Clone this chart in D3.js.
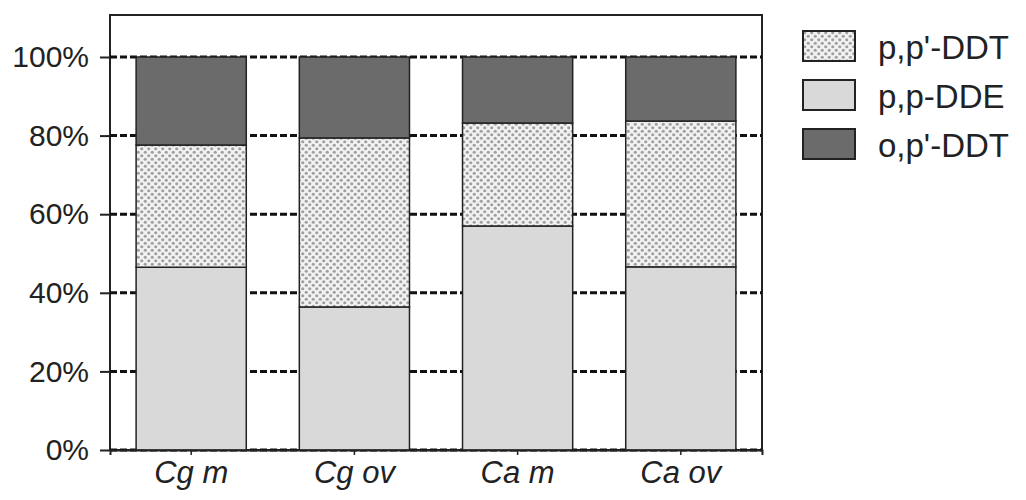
<!DOCTYPE html>
<html>
<head>
<meta charset="utf-8">
<script src="https://cdn.jsdelivr.net/npm/d3@7"></script>
<style>
  body { margin: 0; background: #fff; }
  svg { display: block; font-family: Arial, "Liberation Sans", sans-serif; }
</style>
</head>
<body>
<div id="chart"></div>
<script>

// data (percent of total)
var samples = ["Cg m", "Cg ov", "Ca m", "Ca ov"];
var ppDDE   = [46.5, 36.4, 57.0, 46.6];
var ppDDT   = [31.1, 43.0, 26.2, 37.1];
var opDDT   = [22.4, 20.6, 16.8, 16.3];
var yTicks  = [0, 20, 40, 60, 80, 100];

var series = [
  {key: "ppDDE", name: "p,p-DDE",  values: ppDDE},
  {key: "ppDDT", name: "p,p'-DDT", values: ppDDT},
  {key: "opDDT", name: "o,p'-DDT", values: opDDT}
];
var legendOrder = ["ppDDT", "ppDDE", "opDDT"];

var W = 1026, H = 500;
var margin = {top: 15, right: 264, bottom: 50, left: 110};

var svg = d3.select("#chart").append("svg")
    .attr("width", W)
    .attr("height", H);

// dotted fill for p,p'-DDT
var defs = svg.append("defs");
var pat = defs.append("pattern")
    .attr("id", "dots")
    .attr("patternUnits", "userSpaceOnUse")
    .attr("width", 7).attr("height", 7);
pat.append("rect").attr("width", 7).attr("height", 7).attr("fill", "#f2f2f2");
pat.append("circle").attr("cx", 1.75).attr("cy", 1.75).attr("r", 1.6).attr("fill", "#a0a0a0");
pat.append("circle").attr("cx", 5.25).attr("cy", 5.25).attr("r", 1.6).attr("fill", "#a0a0a0");

var fills = {ppDDE: "#d9d9d9", ppDDT: "url(#dots)", opDDT: "#6b6b6b"};

var x = d3.scaleBand()
    .domain(samples)
    .range([margin.left, W - margin.right])
    .paddingInner(0.325)
    .paddingOuter(0.16);

var y = d3.scaleLinear()
    .domain([0, 100])
    .range([450, 57]);

// frame
svg.append("rect")
    .attr("x", margin.left).attr("y", margin.top)
    .attr("width", W - margin.right - margin.left)
    .attr("height", 450 - margin.top)
    .attr("fill", "none")
    .attr("stroke", "#222")
    .attr("stroke-width", 2);

// dashed grid lines
svg.append("g").selectAll("line")
  .data(yTicks)
  .join("line")
    .attr("x1", margin.left).attr("x2", W - margin.right)
    .attr("y1", function(d){ return y(d); })
    .attr("y2", function(d){ return y(d); })
    .attr("stroke", "#111")
    .attr("stroke-width", 3)
    .attr("stroke-dasharray", "7,3");

// stacked bars
var rows = samples.map(function(s, i){
  var r = {sample: s};
  series.forEach(function(se){ r[se.key] = se.values[i]; });
  return r;
});
var stack = d3.stack().keys(series.map(function(s){ return s.key; }));
var layers = stack(rows);

svg.append("g").selectAll("g")
  .data(layers)
  .join("g")
    .attr("fill", function(d){ return fills[d.key]; })
  .selectAll("rect")
  .data(function(d){ return d; })
  .join("rect")
    .attr("x", function(d){ return x(d.data.sample); })
    .attr("y", function(d){ return y(d[1]); })
    .attr("width", x.bandwidth())
    .attr("height", function(d){ return y(d[0]) - y(d[1]); })
    .attr("stroke", "#222")
    .attr("stroke-width", 1.5);

// y axis
var yAxis = svg.append("g")
    .attr("transform", "translate(" + margin.left + ",0)")
    .call(d3.axisLeft(y).tickValues(yTicks).tickFormat(function(d){ return d + "%"; }).tickSize(10).tickPadding(11));
yAxis.select(".domain").remove();
yAxis.selectAll("line").attr("stroke", "#222").attr("stroke-width", 2);
yAxis.selectAll("text").attr("font-size", 30).attr("fill", "#222").attr("font-family", "Arial, 'Liberation Sans', sans-serif");

// x axis
var xAxis = svg.append("g")
    .attr("transform", "translate(0,450)")
    .call(d3.axisBottom(x).tickSize(5).tickPadding(6));
xAxis.select(".domain").attr("stroke", "#222").attr("stroke-width", 2);
xAxis.selectAll("line").attr("stroke", "#222").attr("stroke-width", 1.5);
xAxis.selectAll("text")
    .attr("font-size", 31)
    .attr("font-style", "italic")
    .attr("fill", "#222")
    .attr("font-family", "Arial, 'Liberation Sans', sans-serif");

// legend
var legend = svg.append("g").attr("transform", "translate(803,31)");
var item = legend.selectAll("g")
  .data(legendOrder)
  .join("g")
    .attr("transform", function(d, i){ return "translate(0," + (i * 49) + ")"; });
item.append("rect")
    .attr("width", 52).attr("height", 30)
    .attr("fill", function(d){ return fills[d]; })
    .attr("stroke", "#222")
    .attr("stroke-width", 2);
item.append("text")
    .attr("x", 75).attr("y", 16)
    .attr("dy", "0.35em")
    .attr("font-size", 33)
    .attr("fill", "#222")
    .text(function(d){ return series.find(function(s){ return s.key === d; }).name; });

</script>
</body>
</html>
